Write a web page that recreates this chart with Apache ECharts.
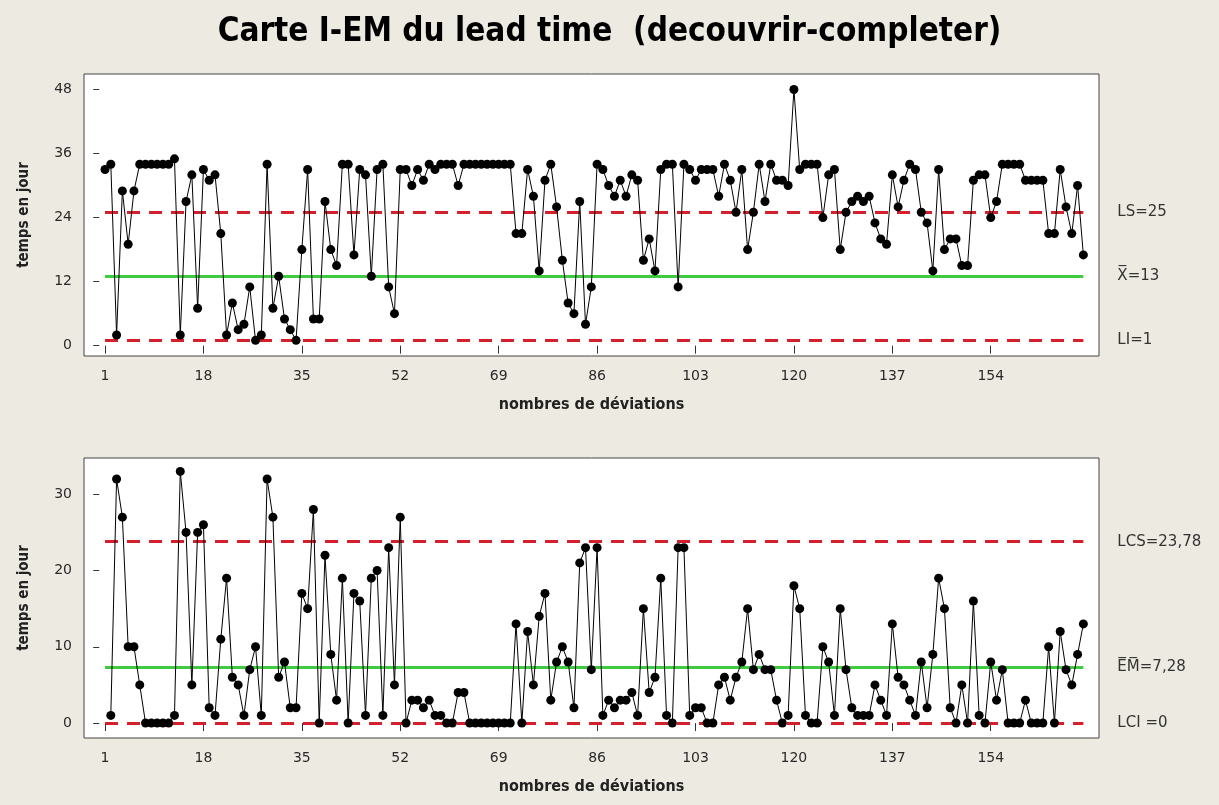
<!DOCTYPE html>
<html>
<head>
<meta charset="utf-8">
<script src="https://cdn.jsdelivr.net/npm/echarts@6/dist/echarts.min.js"></script>
<style>
html,body{margin:0;padding:0;background:#EDEAE1;}
#chart{width:1219px;height:805px;}
</style>
</head>
<body>
<div id="chart"></div>
<script>
const titleText = 'Carte I-EM du lead time  (decouvrir-completer)';
const xAxisName = 'nombres de déviations';
const yAxisName = 'temps en jour';
const xTicks = [1,18,35,52,69,86,103,120,137,154];
const topTicks = [0,12,24,36,48];
const botTicks = [0,10,20,30];

const iValues = [
33,34,2,29,19,29,34,34,34,34,
34,34,35,2,27,32,7,33,31,32,
21,2,8,3,4,11,1,2,34,7,
13,5,3,1,18,33,5,5,27,18,
15,34,34,17,33,32,13,33,34,11,
6,33,33,30,33,31,34,33,34,34,
34,30,34,34,34,34,34,34,34,34,
34,21,21,33,28,14,31,34,26,16,
8,6,27,4,11,34,33,30,28,31,
28,32,31,16,20,14,33,34,34,11,
34,33,31,33,33,33,28,34,31,25,
33,18,25,34,27,34,31,31,30,48,
33,34,34,34,24,32,33,18,25,27,
28,27,28,23,20,19,32,26,31,34,
33,25,23,14,33,18,20,20,15,15,
31,32,32,24,27,34,34,34,34,31,
31,31,31,21,21,33,26,21,30,17
];

const mrValues = [
null,1,32,27,10,10,5,0,0,0,
0,0,1,33,25,5,25,26,2,1,
11,19,6,5,1,7,10,1,32,27,
6,8,2,2,17,15,28,0,22,9,
3,19,0,17,16,1,19,20,1,23,
5,27,0,3,3,2,3,1,1,0,
0,4,4,0,0,0,0,0,0,0,
0,13,0,12,5,14,17,3,8,10,
8,2,21,23,7,23,1,3,2,3,
3,4,1,15,4,6,19,1,0,23,
23,1,2,2,0,0,5,6,3,6,
8,15,7,9,7,7,3,0,1,18,
15,1,0,0,10,8,1,15,7,2,
1,1,1,5,3,1,13,6,5,3,
1,8,2,9,19,15,2,0,5,0,
16,1,0,8,3,7,0,0,0,3,
0,0,0,10,0,12,7,5,9,13
];

const topLimits = [25, 13, 1];
const topLimitLabels = ['LS=25', 'X\u0305=13', 'LI=1'];
const botLimits = [23.78, 7.28, 0];
const botLimitLabels = ['LCS=23,78', 'E\u0305M\u0305=7,28', 'LCI =0'];
const limitKinds = ['ucl', 'center', 'lcl'];

const RED = '#D3202C', GREEN = '#3FCB3F';
const nPts = iValues.length;

function limitLines(vals, labels) {
  return vals.map((v, k) => {
    const center = limitKinds[k] === 'center';
    return [
      {coord: [1, v], label: {formatter: labels[k]},
       lineStyle: {color: center ? GREEN : RED, width: 3, type: center ? 'solid' : [13, 9]}},
      {coord: [nPts, v]}
    ];
  });
}

const labelFont = 'DejaVu Sans';
const boldFont = 'DejaVu Sans Condensed';

function xAxisCfg(gi) {
  return {
    gridIndex: gi, type: 'value', min: -2.63, max: 172.7,
    axisLine: {show: false},
    splitLine: {show: false},
    axisTick: {show: true, customValues: xTicks, length: 8, lineStyle: {color: '#333', width: 1}},
    axisLabel: {customValues: xTicks, margin: 13, fontSize: 14, color: '#2a2a2a', fontFamily: labelFont},
    name: xAxisName, nameLocation: 'middle', nameGap: 41,
    nameTextStyle: {fontSize: 16, fontWeight: 'bold', color: '#222', fontFamily: boldFont}
  };
}
function yAxisCfg(gi, min, max, ticks) {
  return {
    gridIndex: gi, type: 'value', min: min, max: max,
    axisLine: {show: false},
    splitLine: {show: false},
    axisTick: {show: true, customValues: ticks, length: 6, lineStyle: {color: '#333', width: 1}},
    axisLabel: {customValues: ticks, margin: 12, fontSize: 14, color: '#2a2a2a', fontFamily: labelFont},
    name: yAxisName, nameLocation: 'middle', nameGap: 52,
    nameTextStyle: {fontSize: 15, fontWeight: 'bold', color: '#222', fontFamily: boldFont}
  };
}

const chart = echarts.init(document.getElementById('chart'), null, {renderer: 'canvas'});
chart.setOption({
  backgroundColor: '#EDEAE1',
  animation: false,
  title: {
    text: titleText, left: 'center', top: 11,
    textStyle: {fontSize: 33, fontWeight: 'bold', color: '#000', fontFamily: boldFont}
  },
  grid: [
    {left: 84, top: 74, width: 1015, height: 282, show: true, backgroundColor: '#fff', borderColor: '#444', borderWidth: 1},
    {left: 84, top: 458, width: 1015, height: 280, show: true, backgroundColor: '#fff', borderColor: '#444', borderWidth: 1}
  ],
  xAxis: [xAxisCfg(0), xAxisCfg(1)],
  yAxis: [yAxisCfg(0, -1.94, 50.9, topTicks), yAxisCfg(1, -1.96, 34.76, botTicks)],
  series: [
    {
      type: 'line', xAxisIndex: 0, yAxisIndex: 0,
      data: iValues.map((v, i) => [i + 1, v]),
      symbol: 'circle', symbolSize: 9,
      itemStyle: {color: '#000'}, lineStyle: {color: '#000', width: 1},
      z: 5,
      markLine: {
        silent: true, symbol: ['none', 'none'], z: 3,
        label: {show: true, position: 'end', distance: 34, fontSize: 15, color: '#333', fontFamily: labelFont},
        data: limitLines(topLimits, topLimitLabels)
      }
    },
    {
      type: 'line', xAxisIndex: 1, yAxisIndex: 1,
      data: mrValues.map((v, i) => [i + 1, v == null ? '-' : v]),
      symbol: 'circle', symbolSize: 9,
      itemStyle: {color: '#000'}, lineStyle: {color: '#000', width: 1},
      z: 5,
      markLine: {
        silent: true, symbol: ['none', 'none'], z: 3,
        label: {show: true, position: 'end', distance: 34, fontSize: 15, color: '#333', fontFamily: labelFont},
        data: limitLines(botLimits, botLimitLabels)
      }
    }
  ]
});
</script>
</body>
</html>
